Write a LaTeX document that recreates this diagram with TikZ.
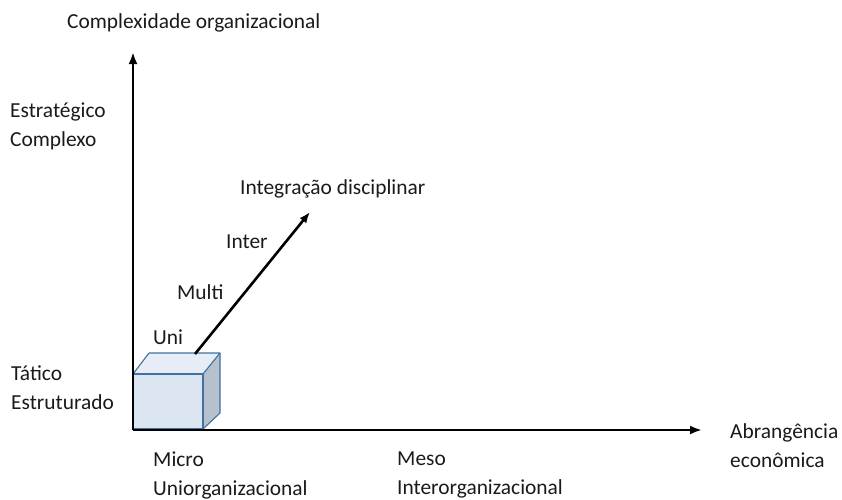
\documentclass[tikz,border=0pt]{standalone}
\usepackage{fontspec}
\setmainfont{Carlito}
\usetikzlibrary{arrows.meta}
\definecolor{frontc}{HTML}{DCE6F2}
\definecolor{topc}{HTML}{E6EDF6}
\definecolor{sidec}{HTML}{B7C1CD}
\definecolor{edgec}{HTML}{41719C}
\definecolor{txt}{HTML}{1A1A1A}
\tikzset{
  lbl/.style={anchor=west, inner sep=0pt, align=left, text=txt, font=\fontsize{21.4}{29}\selectfont},
  axis/.style={line width=2.8pt, -{Latex[length=12pt,width=9pt]}},
  face/.style={draw=edgec, line width=1.1pt, line join=round},
}
\begin{document}
\begin{tikzpicture}[x=1pt,y=-1pt]
\useasboundingbox (0,0) rectangle (842,499);
% axes
\coordinate (o) at (133,430);
\coordinate (ytip) at (133,52);
\coordinate (xtip) at (702,430);
% cube
\coordinate (fbl) at (133,429);
\coordinate (fbr) at (203,429);
\coordinate (ftr) at (203,374);
\coordinate (ftl) at (133,374);
\coordinate (btl) at (149,353);
\coordinate (btr) at (220,353);
\coordinate (bbr) at (220,413);
\fill[frontc] (fbl) -- (fbr) -- (ftr) -- (ftl) -- cycle;
\fill[topc] (ftl) -- (ftr) -- (btr) -- (btl) -- cycle;
\fill[sidec] (fbr) -- (bbr) -- (btr) -- (ftr) -- cycle;
\draw[face] (fbl) -- (fbr) -- (ftr) -- (ftl) -- cycle;
\draw[face] (ftl) -- (btl) -- (btr) -- (ftr);
\draw[face] (btr) -- (bbr) -- (fbr);
\draw[axis] (o) -- (ytip);
\draw[axis] (o) -- (xtip);
% diagonal
\coordinate (ds) at (195,354);
\coordinate (dt) at (310,212);
\draw[line width=2.6pt, -{Latex[length=11pt,width=8.5pt]}] (ds) -- (dt);
% labels
\node[lbl] (cx) at (67,23) {Complexidade organizacional};
\node[lbl] (ec) at (10,126) {Estratégico\\Complexo};
\node[lbl] (te) at (11,387.5) {Tático\\Estruturado};
\node[lbl] (int) at (240,189) {Integração disciplinar};
\node[lbl] (inter) at (226,242) {Inter};
\node[lbl] (multi) at (177,292) {Multi};
\node[lbl] (uni) at (153,337) {Uni};
\node[lbl] (micro) at (153,475) {Micro\\Uniorganizacional};
\node[lbl] (meso) at (397,475) {Meso\\Interorganizacional};
\node[lbl] (ab) at (730,446) {Abrangência\\econômica};
\end{tikzpicture}
\end{document}
